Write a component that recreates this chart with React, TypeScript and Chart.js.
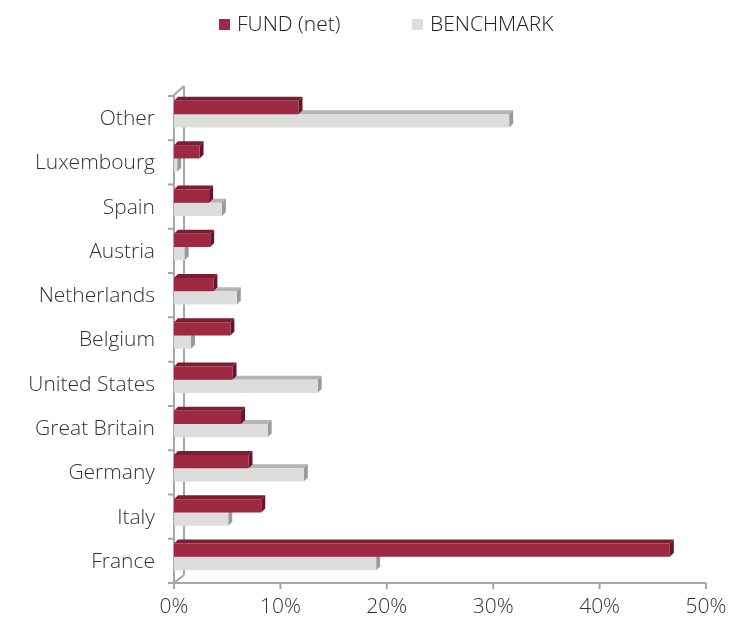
import React, { useEffect, useRef } from "react";
import { Chart, registerables } from "chart.js";

Chart.register(...registerables);

const categories = [
  "Other",
  "Luxembourg",
  "Spain",
  "Austria",
  "Netherlands",
  "Belgium",
  "United States",
  "Great Britain",
  "Germany",
  "Italy",
  "France",
];
const fundValues = [11.7, 2.4, 3.3, 3.4, 3.7, 5.3, 5.5, 6.3, 7.0, 8.2, 46.6];
const benchmarkValues = [31.5, 0.3, 4.5, 1.0, 5.9, 1.6, 13.5, 8.8, 12.2, 5.1, 19.0];
const seriesNames = ["FUND (net)", "BENCHMARK"];
const xTickValues = [0, 10, 20, 30, 40, 50];

const FONT = "'Open Sans', Lato, sans-serif";
const WEIGHT = "300";
const FSIZE = 21;
const FUND_FRONT = "#9e2942";
const FUND_TOP = "#7c1d31";
const FUND_SIDE = "#6a1526";
const BENCH_FRONT = "#dddddd";
const BENCH_TOP = "#b4b4b4";
const BENCH_SIDE = "#9a9a9a";
const AXIS = "#a6a6a6";
const DX = 4;
const DY = 4;
const SHIFT = 4;

const threeD = {
  id: "threeD",
  beforeDatasetsDraw(chart: any) {
    const ctx = chart.ctx;
    const ca = chart.chartArea;
    const xs = chart.scales.x;
    ctx.save();
    ctx.strokeStyle = AXIS;
    ctx.lineWidth = 2;
    const left = xs.getPixelForValue(0);
    const top = ca.top + SHIFT;
    const bottom = ca.bottom + SHIFT;
    ctx.beginPath();
    ctx.moveTo(left + 10, top - 10);
    ctx.lineTo(left + 10, bottom - 8);
    ctx.moveTo(left - 1, top);
    ctx.lineTo(left + 10, top - 10);
    ctx.moveTo(left, bottom);
    ctx.lineTo(left + 10, bottom - 8);
    ctx.moveTo(left, top);
    ctx.lineTo(left, bottom + 1);
    ctx.moveTo(left - 1, bottom);
    ctx.lineTo(xs.getPixelForValue(50), bottom);
    ctx.stroke();
    const n = categories.length;
    const band = (ca.bottom - ca.top) / n;
    ctx.beginPath();
    for (let k = 0; k <= n; k++) {
      const y = top + k * band;
      ctx.moveTo(left - 6, y);
      ctx.lineTo(left, y);
    }
    for (const v of xTickValues) {
      const x = xs.getPixelForValue(v);
      ctx.moveTo(x, bottom);
      ctx.lineTo(x, bottom + 6);
    }
    ctx.stroke();

    const order = [1, 0];
    for (const di of order) {
      const meta = chart.getDatasetMeta(di);
      const topC = di === 0 ? FUND_TOP : BENCH_TOP;
      const sideC = di === 0 ? FUND_SIDE : BENCH_SIDE;
      for (const el of meta.data) {
        const p = el.getProps(["x", "y", "base", "height"], true);
        const t = p.y - p.height / 2;
        const b = p.y + p.height / 2;
        ctx.fillStyle = topC;
        ctx.beginPath();
        ctx.moveTo(p.base, t);
        ctx.lineTo(p.base + DX, t - DY);
        ctx.lineTo(p.x + DX, t - DY);
        ctx.lineTo(p.x, t);
        ctx.closePath();
        ctx.fill();
        ctx.fillStyle = sideC;
        ctx.beginPath();
        ctx.moveTo(p.x, t);
        ctx.lineTo(p.x + DX, t - DY);
        ctx.lineTo(p.x + DX, b - DY);
        ctx.lineTo(p.x, b);
        ctx.closePath();
        ctx.fill();
      }
    }
    ctx.restore();
  },
  afterDraw(chart: any) {
    const ctx = chart.ctx;
    ctx.save();
    const items = [
      { x: 219, color: FUND_FRONT, text: seriesNames[0] },
      { x: 412, color: BENCH_FRONT, text: seriesNames[1] },
    ];
    ctx.font = `${WEIGHT} ${FSIZE}px ${FONT}`;
    ctx.textBaseline = "middle";
    ctx.textAlign = "left";
    for (const it of items) {
      ctx.fillStyle = it.color;
      ctx.fillRect(it.x, 19, 11, 11);
      ctx.fillStyle = "#222222";
      ctx.fillText(it.text, it.x + 18, 25);
    }
    ctx.restore();
  },
};

export default function App() {
  const ref = useRef<HTMLCanvasElement | null>(null);
  useEffect(() => {
    document.body.style.margin = "0";
    const canvas = ref.current;
    if (!canvas) return;
    const chart = new Chart(canvas, {
      type: "bar",
      data: {
        labels: categories,
        datasets: [
          {
            label: seriesNames[0],
            data: fundValues,
            backgroundColor: FUND_FRONT,
            borderWidth: 0,
            categoryPercentage: 0.6,
            barPercentage: 1,
          },
          {
            label: seriesNames[1],
            data: benchmarkValues,
            backgroundColor: BENCH_FRONT,
            borderWidth: 0,
            categoryPercentage: 0.6,
            barPercentage: 1,
          },
        ],
      },
      options: {
        indexAxis: "y",
        animation: false,
        responsive: false,
        maintainAspectRatio: false,
        layout: { padding: { top: 92, right: 45, bottom: 0, left: 0 } },
        plugins: {
          legend: { display: false },
          tooltip: { enabled: false },
        },
        scales: {
          x: {
            min: 0,
            max: 50,
            afterBuildTicks: (scale: any) => {
              scale.ticks = xTickValues.map((v) => ({ value: v }));
            },
            afterFit: (scale: any) => {
              scale.height = 41;
            },
            grid: { display: false, drawTicks: false },
            border: { display: false },
            ticks: {
              padding: 15,
              color: "#333333",
              font: { family: FONT, size: FSIZE, weight: WEIGHT },
              callback: (v: any) => `${v}%`,
              maxRotation: 0,
            },
          },
          y: {
            afterFit: (scale: any) => {
              scale.width = 174;
            },
            grid: { display: false, drawTicks: false },
            border: { display: false },
            ticks: {
              padding: 19,
              labelOffset: SHIFT + 1,
              color: "#333333",
              font: { family: FONT, size: FSIZE, weight: WEIGHT },
            },
          },
        },
      },
      plugins: [threeD],
    });
    return () => chart.destroy();
  }, []);
  return <canvas ref={ref} width={751} height={620} style={{ display: "block" }} />;
}
